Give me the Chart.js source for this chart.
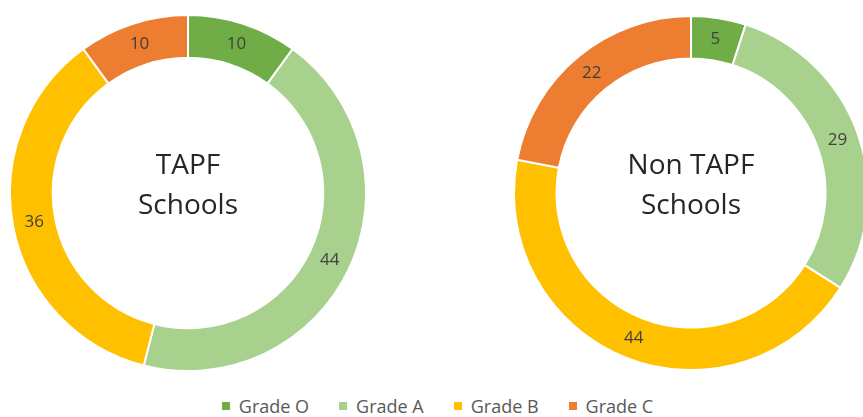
<!DOCTYPE html>
<html>
<head>
<meta charset="utf-8">
<script src="https://cdn.jsdelivr.net/npm/chart.js@4.4.0/dist/chart.umd.min.js"></script>
<style>
  html, body { margin: 0; padding: 0; background: #fff; overflow: hidden; }
  body { width: 863px; height: 417px; position: relative; font-family: "Open Sans", sans-serif; }
  .wrap { position: absolute; }
  #legend { position: absolute; left: 0; width: 863px; top: 394px; display: flex; justify-content: center; gap: 30px;
    font-size: 18px; color: #595959; padding-left: 6px; }
  #legend span.item { display: flex; align-items: center; }
  #legend span.box { width: 8px; height: 8px; margin-right: 9px; display: inline-block; }
</style>
</head>
<body>
<div class="wrap" style="left:9px;top:14px;width:358px;height:358px"><canvas id="chart-tapf"></canvas></div>
<div class="wrap" style="left:513px;top:15px;width:356px;height:356px"><canvas id="chart-non-tapf"></canvas></div>
<div id="legend"></div>
<script>
var grades = ["Grade O", "Grade A", "Grade B", "Grade C"];
var gradeColors = ["#70AD47", "#A9D18E", "#FFC000", "#ED7D31"];
var tapfValues = [10, 44, 36, 10];
var nonTapfValues = [5, 29, 44, 22];

// value labels in the middle of each ring segment
var valueLabels = {
    id: 'valueLabels',
    afterDatasetsDraw: function(chart) {
        var ctx = chart.ctx;
        var meta = chart.getDatasetMeta(0);
        var data = chart.data.datasets[0].data;
        ctx.save();
        ctx.font = '17px "Open Sans"';
        ctx.fillStyle = '#404040';
        ctx.textAlign = 'center';
        ctx.textBaseline = 'middle';
        meta.data.forEach(function(arc, i) {
            var p = arc.tooltipPosition();
            ctx.fillText(data[i], p.x, p.y);
        });
        ctx.restore();
    }
};

// title in the hole
var centerText = {
    id: 'centerText',
    afterDraw: function(chart) {
        var lines = chart.options.plugins.centerText.lines;
        var arc = chart.getDatasetMeta(0).data[0];
        var ctx = chart.ctx;
        ctx.save();
        ctx.font = '28px "Open Sans"';
        ctx.fillStyle = '#262626';
        ctx.textAlign = 'center';
        ctx.textBaseline = 'middle';
        ctx.fillText(lines[0], arc.x, arc.y - 27);
        ctx.fillText(lines[1], arc.x, arc.y + 13);
        ctx.restore();
    }
};

function makeDoughnut(id, values, lines) {
    return new Chart(document.getElementById(id), {
        type: 'doughnut',
        data: {
            labels: grades,
            datasets: [{
                data: values,
                backgroundColor: gradeColors,
                borderColor: '#ffffff',
                borderWidth: 2
            }]
        },
        options: {
            responsive: true,
            maintainAspectRatio: false,
            animation: false,
            cutout: '76%',
            layout: { padding: 0 },
            plugins: {
                legend: { display: false },
                tooltip: { enabled: false },
                centerText: { lines: lines }
            }
        },
        plugins: [valueLabels, centerText]
    });
}

makeDoughnut("chart-tapf", tapfValues, ["TAPF", "Schools"]);
makeDoughnut("chart-non-tapf", nonTapfValues, ["Non TAPF", "Schools"]);

var legend = document.getElementById("legend");
grades.forEach(function(g, i) {
    var item = document.createElement("span");
    item.className = "item";
    var box = document.createElement("span");
    box.className = "box";
    box.style.background = gradeColors[i];
    item.appendChild(box);
    item.appendChild(document.createTextNode(g));
    legend.appendChild(item);
});
</script>
</body>
</html>
